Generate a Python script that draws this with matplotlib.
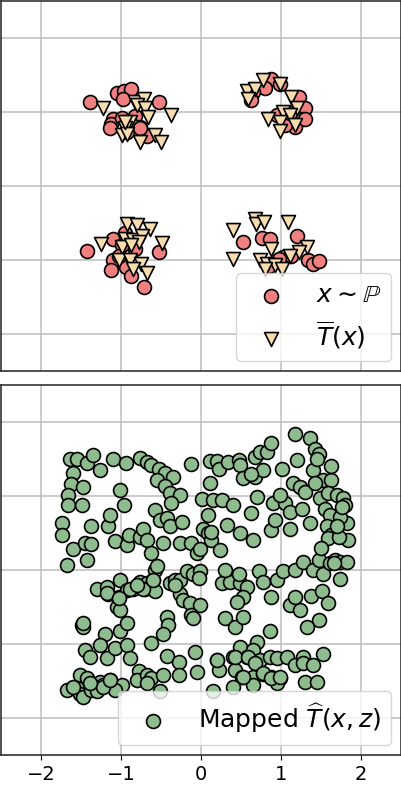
import numpy as np
import matplotlib.pyplot as plt

# source samples x ~ P
px = [-1.39, -1.05, -0.96, -0.87, -0.97, -0.52, -1.10, -1.12, -0.99, -0.83, -0.76, -0.68, -0.93, -0.87, -1.14, -0.76,
      0.88, 0.99, 0.80, 0.65, 0.63, 1.22, 1.30, 1.26, 1.17, 1.05, 0.95, 1.11, 1.30,
      -1.43, -1.10, -0.95, -0.99, -1.10, -1.12, -0.94, -0.87, -0.71, -0.53, -0.83, -1.03,
      0.52, 0.76, 0.86, 1.20, 1.03, 1.13, 1.34, 1.40, 1.48, 0.98, 0.85]
py = [1.13, 1.26, 1.28, 1.31, 1.18, 1.13, 0.91, 0.84, 0.92, 0.95, 0.80, 0.68, 0.73, 0.84, 0.79, 0.79,
      1.45, 1.38, 1.32, 1.27, 1.16, 1.20, 1.05, 0.91, 0.80, 0.82, 0.96, 0.98, 0.91,
      -0.88, -0.71, -0.64, -0.80, -1.00, -1.14, -1.09, -1.21, -1.37, -0.89, -0.85, -0.94,
      -0.76, -0.70, -0.71, -0.67, -0.96, -0.94, -1.00, -1.05, -1.02, -0.98, -1.08]

# T-bar(x)
tx = [-1.22, -0.83, -0.71, -0.80, -0.70, -0.66, -0.38, -0.89, -0.95, -0.99, -0.76, -0.58, -0.50, -0.93, -0.95,
      0.57, 0.68, 0.78, 0.59, 0.99, 1.13, 1.20, 1.03, 1.11, 0.84, 0.99, 1.17, 0.99,
      -1.25, -0.93, -0.80, -0.64, -0.95, -0.85, -0.74, -0.77, -0.99, -0.87, -0.49, -1.02, -0.89, -0.75, -0.85, -0.68,
      0.40, 0.68, 0.69, 0.79, 1.09, 0.88, 1.33, 1.22, 1.11, 0.40, 0.74, 0.82, 0.93, 1.01, 0.80]
ty = [1.05, 1.14, 1.17, 1.09, 1.05, 0.93, 0.96, 0.87, 0.78, 0.69, 0.59, 0.69, 0.60, 0.70, 0.87,
      1.29, 1.31, 1.43, 1.18, 1.38, 1.20, 1.05, 1.00, 0.96, 0.91, 0.86, 0.82, 0.75,
      -0.78, -0.51, -0.53, -0.58, -0.71, -0.73, -0.67, -0.76, -0.82, -0.80, -0.77, -1.00, -1.00, -1.05, -1.12, -1.18,
      -0.60, -0.45, -0.51, -0.49, -0.48, -0.85, -0.82, -0.89, -0.94, -0.98, -1.00, -1.05, -1.07, -1.12, -1.12]

# mapped T-hat(x, z)
mx = [-1.64, -1.55, -1.43, -1.35, -1.26, -1.10, -0.94, -1.60, -1.62, -1.47, -1.66, -1.66, -1.49, -1.74, -1.74,
      -1.60, -1.68, -1.42, -1.45, -1.38, -1.37, -1.16, -1.14, -1.01, -0.96, -1.08, -0.93, -0.90, -0.76, -0.72,
      -0.68, -0.62, -0.58, -0.51, -0.43, -0.39, -0.47, -0.24, -0.26, -0.12, -0.05, -0.01, 0.03, 0.01, 0.11,
      0.15, 0.09, 0.09, 0.13, 0.24, 0.32, 0.26, 0.40, 0.49, 0.65, 0.63, 0.70, 0.90, 1.05, 1.11, 1.26, 1.36,
      1.11, 0.88, 0.93, 0.99,
      -0.76, -0.68, -0.62, -0.53, -0.45, -0.35, -0.55, -0.45, -0.39, -0.26, -0.37, -0.13, 0.11, 0.20, 0.22,
      0.34, 0.47, 0.49, 0.53, 0.68, 0.78, 0.68, 0.74, 0.82, 0.87, 1.01, 1.18, 1.36, 1.43, 1.47, 1.20, 1.40,
      1.53, 1.63, 1.15, 1.24, 1.30, 1.43, 1.49, 1.59, 1.70, 1.78, 1.80, 1.55, 1.61, 1.82, 1.57, 1.63, 1.59,
      1.84, 1.72, 1.74,
      -1.30, -1.18, -1.16, -1.03, -1.01, -0.93, -0.85, -0.76, -0.68, -0.60, -0.58, -0.70, -0.58, -1.05, -1.01,
      -0.39, -0.33, -0.26, -0.18, -0.10, -0.01, -0.03, -0.26, -0.22, -0.14, -0.01, -0.12, -0.10, -0.43, -0.41,
      -0.47, 0.26, 0.36, 0.49, 0.57, 0.53, 0.45, 0.30, 0.47, 0.72, 0.78, 0.95, 1.03, 1.18, 0.88, 1.11, 1.24,
      1.18, 1.38, 1.51, 1.59, 1.47, 1.32, 1.28, 1.40, 1.47, 1.53, 1.61, 1.68, 1.74, 1.82, 1.74, 0.30, 0.43,
      0.53, 0.86,
      -1.49, -1.47, -1.20, -1.01, -0.93, -1.45, -1.39, -1.26, -1.18, -1.08, -0.93, -0.89, -0.78, -0.80, -0.68,
      -0.62, -0.62, -0.47, -0.43, -0.28, -0.28, -0.08, -0.05, 0.20, 0.22, 0.40, 0.49, 0.57, 0.70, 0.65, 0.74,
      0.86, 0.95, 1.07, 1.18, 1.28, 1.28, 1.40, 1.53, 0.43, 0.51, 0.65, 0.78, 0.88, 0.99, 1.30, 1.45,
      -1.51, -1.43, -1.55, -1.51, -1.47, -1.37, -1.26, -1.14, -0.99, -1.68, -1.60, -1.30, -1.22, -1.08,
      -0.68, -0.51, 0.15, 0.40, 0.65, 0.95,
      0.43, 0.59, 0.68, 0.78, 0.88, 0.99, 0.53, 0.20, -0.89, -0.72, -0.60, -0.80, -1.18, -1.03, -1.47,
      -1.22, -1.39, -1.14, 1.66, 1.70, 1.50, 1.45, 1.76, -0.55, -0.33, 0.12, 0.62, 1.62]
my = [1.50, 1.50, 1.44, 1.55, 1.35, 1.50, 1.45, 1.31, 1.16, 1.12, 1.01, 0.88, 0.88, 0.63, 0.47,
      0.29, 0.07, 0.14, 0.36, 0.35, 0.60, 0.60, 0.74, 1.08, 0.88, 0.39, 0.34, 0.47, 0.45, 0.55,
      0.41, 0.23, 0.81, 0.68, 0.70, 0.59, 0.36, 0.65, 0.37, 0.36, 0.23, 0.29, 0.56, 0.96, 1.17,
      0.95, 0.74, 0.50, 0.41, 0.27, 0.61, 0.95, 0.88, 0.50, 0.41, 0.77, 0.99, 0.90, 0.90, 0.79, 0.83, 0.63,
      0.56, 0.54, 0.68, 1.01,
      1.51, 1.46, 1.42, 1.37, 1.31, 1.26, 1.22, 1.13, 1.04, 1.01, 0.90, 1.43, 1.47, 1.47, 1.37,
      1.46, 1.49, 1.42, 1.24, 1.26, 1.35, 1.53, 1.60, 1.60, 1.72, 1.37, 1.84, 1.78, 1.64, 1.57, 1.49, 1.35,
      1.22, 1.22, 1.17, 1.12, 1.06, 1.17, 0.97, 1.04, 1.01, 0.97, 0.88, 0.83, 0.74, 0.63, 0.59, 0.47, 0.43,
      0.41, 0.45, 0.72,
      -0.25, -0.23, -0.32, -0.36, -0.14, -0.27, -0.25, -0.16, -0.18, -0.14, 0.00, -0.25, -0.29, -0.50, -0.54,
      -0.18, -0.13, -0.13, -0.02, -0.05, -0.02, -0.11, -0.32, -0.41, -0.45, -0.47, -0.61, -0.65, -0.63, -0.74,
      -0.86, -0.18, -0.16, -0.18, -0.23, -0.36, -0.43, 0.00, -0.05, -0.02, -0.16, -0.14, -0.02, 0.00, -0.36,
      -0.47, -0.54, -0.36, -0.35, -0.29, -0.45, -0.68, -0.77, 0.11, 0.00, 0.14, -0.05, 0.09, 0.14, 0.11,
      0.11, -0.12, -0.65, -0.77, -0.63, -0.83,
      -0.74, -0.77, -0.86, -0.83, -0.72, -1.08, -1.17, -1.01, -1.19, -1.06, -1.01, -1.19, -1.37, -1.49, -1.42,
      -0.99, -1.46, -1.42, -1.16, -1.24, -1.42, -1.11, -1.38, -1.22, -1.35, -1.17, -1.04, -1.17, -0.97, -1.08,
      -1.22, -1.17, -1.19, -1.17, -1.28, -1.17, -1.26, -1.28, -1.13, -1.35, -1.44, -1.44, -1.40, -1.44, -1.46,
      -1.51, -1.51,
      -1.42, -1.46, -1.60, -1.67, -1.71, -1.62, -1.51, -1.49, -1.55, -1.62, -1.58, -1.64, -1.55, -1.62,
      -1.53, -1.64, -1.64, -1.58, -1.55, -1.53,
      -1.17, -1.17, -1.26, -1.39, -1.46, -1.44, -1.44, -1.22, -0.25, -0.25, -0.14, -0.20, -0.31, -0.38, -0.72,
      -1.58, -1.53, -1.49, 0.10, 0.60, 0.30, 1.50, 0.85, 0.05, -0.20, 0.52, 1.30, 1.40]

fig = plt.figure(figsize=(4.02, 7.86), dpi=100)
ax1 = fig.add_axes([1 / 402, 415 / 786, 400 / 402, 370 / 786])
ax2 = fig.add_axes([1 / 402, 31 / 786, 400 / 402, 370 / 786])

ax1.scatter(px, py, s=100, c='lightcoral', edgecolors='black', linewidths=1.2, label=r'$x\sim\mathbb{P}$', zorder=3)
ax1.scatter(tx, ty, s=100, marker='v', c='#f7dcae', edgecolors='black', linewidths=1.2,
            label=r'$\overline{T}(x)$', zorder=3)
ax2.scatter(mx, my, s=100, c='darkseagreen', edgecolors='black', linewidths=1.2,
            label=r'Mapped $\widehat{T}(x,z)$', zorder=3)

for ax in (ax1, ax2):
    ax.set_xlim(-2.5, 2.5)
    ax.set_ylim(-2.5, 2.5)
    ax.set_xticks([-2, -1, 0, 1, 2])
    ax.set_yticks([-2, -1, 0, 1, 2])
    ax.grid(True, color='#bdbdbd', linewidth=1.1)
    ax.set_axisbelow(True)
    ax.legend(loc='lower right', fontsize=18, borderaxespad=0.4)
    for sp in ax.spines.values():
        sp.set_linewidth(1.1)
        sp.set_color('#222222')

ax1.tick_params(left=False, labelleft=False, bottom=False, labelbottom=False)
ax2.tick_params(left=False, labelleft=False, labelsize=14)

fig.savefig('out.png', dpi=100)
